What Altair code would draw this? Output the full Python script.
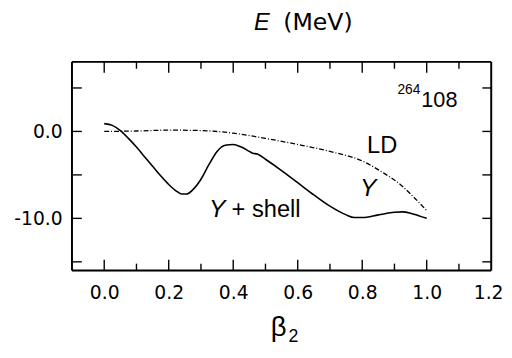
import altair as alt
import pandas as pd

# Y + shell curve
beta_shell = [0.0, 0.025, 0.05, 0.075, 0.10, 0.125, 0.15, 0.175, 0.20, 0.225, 0.24, 0.255,
              0.275, 0.30, 0.325, 0.35, 0.375, 0.40, 0.425, 0.45, 0.46, 0.475, 0.50, 0.55,
              0.60, 0.65, 0.70, 0.75, 0.775, 0.80, 0.85, 0.90, 0.925, 0.95, 0.975, 1.0]
e_shell = [0.9, 0.7, 0.1, -0.8, -1.8, -2.9, -4.0, -5.1, -6.1, -6.9, -7.2, -7.2,
           -6.7, -5.5, -3.8, -2.3, -1.6, -1.5, -1.8, -2.3, -2.5, -2.6, -3.2, -4.5,
           -5.9, -7.3, -8.6, -9.6, -9.9, -9.9, -9.6, -9.3, -9.25, -9.4, -9.7, -10.0]

# LD (Y) curve
beta_ld = [0.0, 0.1, 0.2, 0.3, 0.4, 0.5, 0.6, 0.7, 0.8, 0.867, 0.918, 0.95, 1.0]
e_ld = [0.0, 0.05, 0.15, 0.1, -0.2, -0.8, -1.5, -2.3, -3.4, -4.8, -6.1, -7.2, -9.1]

# axis ticks
x_major = [0.0, 0.2, 0.4, 0.6, 0.8, 1.0]
x_minor = [0.1, 0.3, 0.5, 0.7, 0.9, 1.1]
x_labels = [0.0, 0.2, 0.4, 0.6, 0.8, 1.0, 1.2]
y_ticks = [5, 0, -5, -10, -15]
y_labels = [0, -10]

W, H = 426, 212
xs = alt.Scale(domain=[-0.1, 1.2], nice=False, zero=False)
ys = alt.Scale(domain=[-16, 8], nice=False, zero=False)

df_shell = pd.DataFrame({"b": beta_shell, "e": e_shell})
df_ld = pd.DataFrame({"b": beta_ld, "e": e_ld})

base_x = alt.X("b:Q", scale=xs,
               axis=alt.Axis(values=x_labels, format=".1f", ticks=False, domain=False, grid=False,
                             labelFont="DejaVu Sans", labelFontSize=19, labelColor="black",
                             labelPadding=13, title=None,
                             labelAlign={"expr": "datum.value >= 1.2 ? 'right' : 'center'"},
                             labelOffset={"expr": "datum.value >= 1.2 ? 12 : 0"}))
base_y = alt.Y("e:Q", scale=ys,
               axis=alt.Axis(values=y_labels, labelExpr="datum.value == 0 ? '0.0' : '-10.0'",
                             ticks=False, domain=False, grid=False,
                             labelFont="DejaVu Sans", labelFontSize=19, labelColor="black",
                             labelPadding=10, title=None))

shell = alt.Chart(df_shell).mark_line(color="black", strokeWidth=1.6, interpolate="monotone").encode(
    x=base_x, y=base_y)
ld = alt.Chart(df_ld).mark_line(color="black", strokeWidth=1.3, strokeDash=[5, 2, 1, 2],
                                interpolate="monotone").encode(
    x=alt.X("b:Q", scale=xs), y=alt.Y("e:Q", scale=ys))

# frame (four black rules)
one = pd.DataFrame({"k": [0]})
fr = dict(color="black", strokeWidth=2)
f_top = alt.Chart(one).mark_rule(**fr).encode(x=alt.value(0), x2=alt.value(W), y=alt.value(0))
f_bot = alt.Chart(one).mark_rule(**fr).encode(x=alt.value(0), x2=alt.value(W), y=alt.value(H))
f_left = alt.Chart(one).mark_rule(**fr).encode(y=alt.value(0), y2=alt.value(H), x=alt.value(0))
f_right = alt.Chart(one).mark_rule(**fr).encode(y=alt.value(0), y2=alt.value(H), x=alt.value(W))

# ticks (inward)
dfx_major = pd.DataFrame({"b": x_major})
dfx_minor = pd.DataFrame({"b": x_minor})
dfy = pd.DataFrame({"e": y_ticks})
tick_style = dict(color="black", strokeWidth=1.4)
bot_major = alt.Chart(dfx_major).mark_rule(**tick_style).encode(
    x=alt.X("b:Q", scale=xs), y=alt.value(H), y2=alt.value(H - 11))
bot_minor = alt.Chart(dfx_minor).mark_rule(**tick_style).encode(
    x=alt.X("b:Q", scale=xs), y=alt.value(H), y2=alt.value(H - 7))
top_major = alt.Chart(dfx_major).mark_rule(**tick_style).encode(
    x=alt.X("b:Q", scale=xs), y=alt.value(0), y2=alt.value(11))
top_minor = alt.Chart(dfx_minor).mark_rule(**tick_style).encode(
    x=alt.X("b:Q", scale=xs), y=alt.value(0), y2=alt.value(7))
left_t = alt.Chart(dfy).mark_rule(**tick_style).encode(
    y=alt.Y("e:Q", scale=ys), x=alt.value(0), x2=alt.value(10))
right_t = alt.Chart(dfy).mark_rule(**tick_style).encode(
    y=alt.Y("e:Q", scale=ys), x=alt.value(W), x2=alt.value(W - 9))

# annotations
ann = pd.DataFrame({
    "b": [0.815, 0.793, 0.325, 0.395],
    "e": [-2.5, -7.4, -9.85, -9.85],
    "t": ["LD", "Y", "Y", "+ shell"],
    "s": ["normal", "italic", "italic", "normal"],
})
ann_norm = alt.Chart(ann[ann.s == "normal"]).mark_text(
    font="Liberation Sans", fontSize=24, align="left", baseline="alphabetic", color="black").encode(
    x=alt.X("b:Q", scale=xs), y=alt.Y("e:Q", scale=ys), text="t:N")
ann_it = alt.Chart(ann[ann.s == "italic"]).mark_text(
    font="Liberation Sans", fontSize=25, fontStyle="italic", align="left", baseline="alphabetic",
    color="black").encode(
    x=alt.X("b:Q", scale=xs), y=alt.Y("e:Q", scale=ys), text="t:N")

nuc_mass = alt.Chart(pd.DataFrame({"t": ["264"]})).mark_text(
    font="Liberation Sans", fontSize=14, align="right", baseline="alphabetic", color="black").encode(
    x=alt.value(354), y=alt.value(33), text="t:N")
nuc_z = alt.Chart(pd.DataFrame({"t": ["108"]})).mark_text(
    font="Liberation Sans", fontSize=22, align="left", baseline="alphabetic", color="black").encode(
    x=alt.value(355), y=alt.value(46), text="t:N")

title_e = alt.Chart(pd.DataFrame({"t": ["E"]})).mark_text(
    font="Liberation Sans", fontSize=24, fontStyle="italic", align="center", baseline="alphabetic",
    color="black").encode(x=alt.value(193), y=alt.value(-32), text="t:N")
title_u = alt.Chart(pd.DataFrame({"t": ["(MeV)"]})).mark_text(
    font="DejaVu Sans", fontSize=24, align="center", baseline="alphabetic", color="black").encode(
    x=alt.value(250), y=alt.value(-32), text="t:N")

xt_b = alt.Chart(pd.DataFrame({"t": ["β"]})).mark_text(
    font="Liberation Sans", fontSize=28, align="center", baseline="alphabetic", color="black").encode(
    x=alt.value(210), y=alt.value(279), text="t:N")
xt_2 = alt.Chart(pd.DataFrame({"t": ["2"]})).mark_text(
    font="Liberation Sans", fontSize=18, align="center", baseline="alphabetic", color="black").encode(
    x=alt.value(225), y=alt.value(285), text="t:N")

chart = alt.layer(
    shell, ld, f_top, f_bot, f_left, f_right, bot_major, bot_minor, top_major, top_minor,
    left_t, right_t, ann_norm, ann_it, nuc_mass, nuc_z, title_e, title_u, xt_b, xt_2
).properties(
    width=W, height=H,
    autosize=alt.AutoSizeParams(type="none"),
    padding={"left": 65, "top": 52, "right": 13, "bottom": 78},
).configure_view(stroke=None).configure(background="white")

chart.save("out.html", embed_options={"renderer": "svg", "actions": False})
